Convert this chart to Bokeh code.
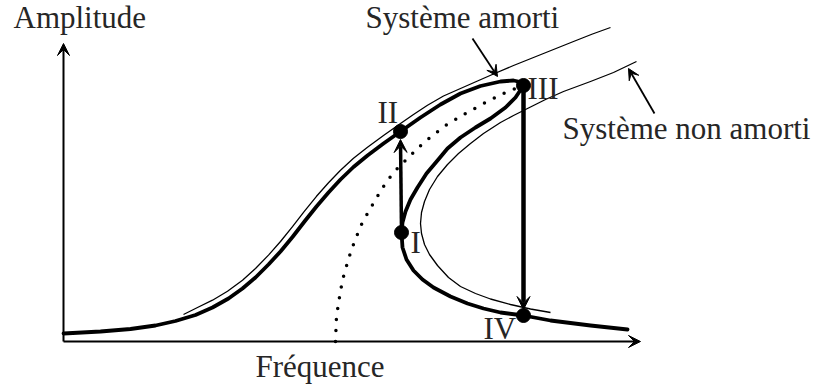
from bokeh.plotting import figure
from bokeh.models import Range1d, Arrow, VeeHead, Label
from bokeh.embed import file_html
from bokeh.resources import INLINE

# Frequency response of a nonlinear (hardening) oscillator, arbitrary units.
# Thick curve: damped response, followed through the fold (III .. I).
freq_response = [0, 37, 67, 92, 112, 132, 149, 165, 179, 192, 205, 217, 229, 241,
                 253, 265, 277, 290, 304, 320, 337, 357, 377, 397, 417, 437, 450,
                 457, 460, 452, 442, 427, 412, 397, 384, 374, 363, 354, 347, 342,
                 339, 338, 339, 343, 350, 359, 370, 387, 404, 420, 437, 460, 487,
                 527, 564]
amp_response = [8, 10, 12.5, 16, 20.5, 26.5, 34, 43, 53, 64, 77, 90, 104.5, 120,
                135, 149, 162, 174.5, 186, 198, 210, 224, 237, 248, 255.5, 260, 261,
                259.5, 256, 244, 234, 223, 214, 204, 193, 181, 168, 154, 142, 130,
                119, 109, 94, 82, 71, 62, 54, 45, 38, 33, 29, 26, 21,
                16, 12]

# Thin curve: damped system
freq_damped = [120, 134, 149, 164, 179, 192, 205, 217, 229, 241, 253, 265, 277,
               290, 304, 320, 337, 350, 364, 380, 397, 414, 430, 450, 470, 490,
               510, 529, 547]
amp_damped = [27, 34, 41.3, 50.2, 61.3, 73, 86.4, 100, 114.8, 130.4, 145.2,
              158.8, 171.2, 183.2, 194.3, 206, 218, 227, 236.2, 245.5, 253,
              260.5, 267.5, 276, 284, 292, 300, 307.5, 314]

# Thin curve: undamped system
freq_undamped = [573, 550, 527, 500, 482, 464, 450, 437, 420, 407, 395, 384, 374,
                 366, 361, 358, 357, 358, 361, 366, 374, 385, 397, 412, 427, 447,
                 467, 487]
amp_undamped = [280, 269, 260, 250, 242, 233, 226, 219, 208, 198, 188, 177, 165,
                152, 140, 129, 118, 108, 97, 87, 76, 64, 55, 48, 42.5, 37,
                32.5, 29]

# Dotted curve: backbone
freq_backbone = [272, 272.5, 273, 275, 277, 280, 284, 288, 293, 298, 304, 311,
                 318, 324, 331, 339, 347, 355, 364, 373, 382, 392, 402, 412, 422,
                 432, 442, 452, 460]
amp_backbone = [0, 13, 25, 38, 51, 65, 79, 92, 105, 117, 128, 140, 152, 161,
                170, 178, 186, 194, 202, 209, 216, 222, 228, 233.5, 239, 244,
                249, 253, 257]

# Jump points
jump_labels = ["I", "II", "III", "IV"]
jump_freq = [338, 337, 460, 460]
jump_amp = [109, 210, 256, 26]

FONT = "Liberation Serif"
FS = "31px"
INK = "black"

p = figure(width=818, height=385, output_backend="svg", toolbar_location=None,
           x_range=Range1d(-63, 755), y_range=Range1d(-44, 341),
           x_axis_type=None, y_axis_type=None, min_border=0)
p.outline_line_color = None
p.xgrid.visible = False
p.ygrid.visible = False
p.background_fill_color = "white"
p.border_fill_color = "white"


def head(size):
    return VeeHead(size=size, fill_color=INK, line_color=INK)


# axes with arrowheads
p.add_layout(Arrow(x_start=0, y_start=0, x_end=0, y_end=298, line_width=2,
                   end=head(12)))
p.add_layout(Arrow(x_start=0, y_start=0, x_end=577, y_end=0, line_width=2,
                   end=head(12)))

p.line(freq_damped, amp_damped, line_color=INK, line_width=1.3,
       line_join="round")
p.line(freq_undamped, amp_undamped, line_color=INK, line_width=1.3,
       line_join="round")
p.line(freq_backbone, amp_backbone, line_color=INK, line_width=3.5,
       line_dash="0 11", line_cap="round")
p.line(freq_response, amp_response, line_color=INK, line_width=3.8,
       line_join="round", line_cap="round")

# jumps I -> II and III -> IV
i_, ii_, iii_, iv_ = range(4)
p.add_layout(Arrow(x_start=jump_freq[i_], y_start=jump_amp[i_],
                   x_end=jump_freq[ii_], y_end=jump_amp[ii_] - 8, line_width=3.5,
                   end=head(13)))
p.add_layout(Arrow(x_start=jump_freq[iii_], y_start=jump_amp[iii_],
                   x_end=jump_freq[iv_], y_end=jump_amp[iv_] + 6, line_width=4.5,
                   end=head(13)))

p.scatter(jump_freq, jump_amp, size=14, fill_color=INK, line_color=INK)

# pointers to the two curves
p.add_layout(Arrow(x_start=409, y_start=303, x_end=434, y_end=265, line_width=1.8,
                   end=head(11)))
p.add_layout(Arrow(x_start=591, y_start=228, x_end=565, y_end=273, line_width=1.8,
                   end=head(11)))


def add_text(x, y, t):
    p.add_layout(Label(x=x, y=y, text=t, text_font=FONT, text_font_size=FS,
                       text_color="#262626", text_baseline="alphabetic"))


add_text(-50, 324, "Amplitude")
add_text(192, -25, "Fréquence")
add_text(302, 324, "Système amorti")
add_text(499, 213, "Système non amorti")

label_pos = {"I": (347, 99), "II": (314, 229), "III": (464, 253), "IV": (420, 13)}
for name in jump_labels:
    x, y = label_pos[name]
    add_text(x, y, name)

open("out.html", "w").write(file_html(p, INLINE))
